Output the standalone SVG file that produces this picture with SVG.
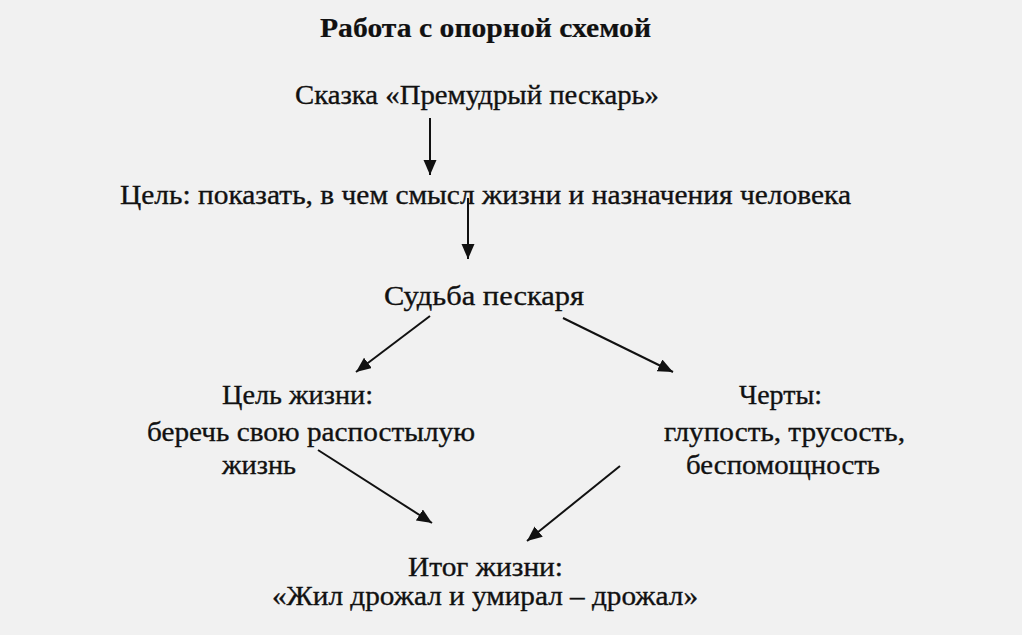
<svg xmlns="http://www.w3.org/2000/svg" width="1022" height="635" viewBox="0 0 1022 635">
<style>
.t{font-family:"Liberation Serif","Times New Roman",serif;font-size:28px;fill:#111;stroke:#111;stroke-width:0.35}
.b{font-weight:bold;font-size:27px;stroke-width:0.2}
.c{stroke:#111;stroke-width:2;fill:none}
</style>
<defs>
<marker id="ah" markerUnits="userSpaceOnUse" markerWidth="18" markerHeight="14" refX="15" refY="6.5" orient="auto">
<path d="M0,0 L15,6.5 L0,13 Z" fill="#111"/>
</marker>
</defs>
<rect width="1022" height="635" fill="#f1f1f1"/>
<g id="title"><text class="t b" x="320" y="37" textLength="331" lengthAdjust="spacingAndGlyphs">Работа с опорной схемой</text></g>
<g id="skazka"><text class="t" x="295" y="104" textLength="364" lengthAdjust="spacingAndGlyphs">Сказка «Премудрый пескарь»</text></g>
<g id="cel"><text class="t" x="120" y="204" textLength="731" lengthAdjust="spacingAndGlyphs">Цель: показать, в чем смысл жизни и назначения человека</text></g>
<g id="sudba"><text class="t" x="384" y="305" textLength="200" lengthAdjust="spacingAndGlyphs">Судьба пескаря</text></g>
<g id="cel-zhizni">
<text class="t" x="222" y="404" textLength="151" lengthAdjust="spacingAndGlyphs">Цель жизни:</text>
<text class="t" x="147" y="441" textLength="328" lengthAdjust="spacingAndGlyphs">беречь свою распостылую</text>
<text class="t" x="222" y="474" textLength="74" lengthAdjust="spacingAndGlyphs">жизнь</text>
</g>
<g id="cherty">
<text class="t" x="739" y="404" textLength="83" lengthAdjust="spacingAndGlyphs">Черты:</text>
<text class="t" x="664" y="441" textLength="241" lengthAdjust="spacingAndGlyphs">глупость, трусость,</text>
<text class="t" x="686" y="474" textLength="194" lengthAdjust="spacingAndGlyphs">беспомощность</text>
</g>
<g id="itog">
<text class="t" x="408" y="576" textLength="155" lengthAdjust="spacingAndGlyphs">Итог жизни:</text>
<text class="t" x="272" y="605" textLength="426" lengthAdjust="spacingAndGlyphs">«Жил дрожал и умирал – дрожал»</text>
</g>
<g id="connectors">
<line class="c" x1="430" y1="118" x2="430" y2="175" marker-end="url(#ah)"/>
<line class="c" x1="468" y1="198" x2="468" y2="259" marker-end="url(#ah)"/>
<line class="c" x1="430" y1="316" x2="356" y2="372" marker-end="url(#ah)"/>
<line class="c" x1="563" y1="318" x2="673" y2="372" marker-end="url(#ah)"/>
<line class="c" x1="318" y1="450" x2="432" y2="523" marker-end="url(#ah)"/>
<line class="c" x1="620" y1="466" x2="527" y2="541" marker-end="url(#ah)"/>
</g>
</svg>
